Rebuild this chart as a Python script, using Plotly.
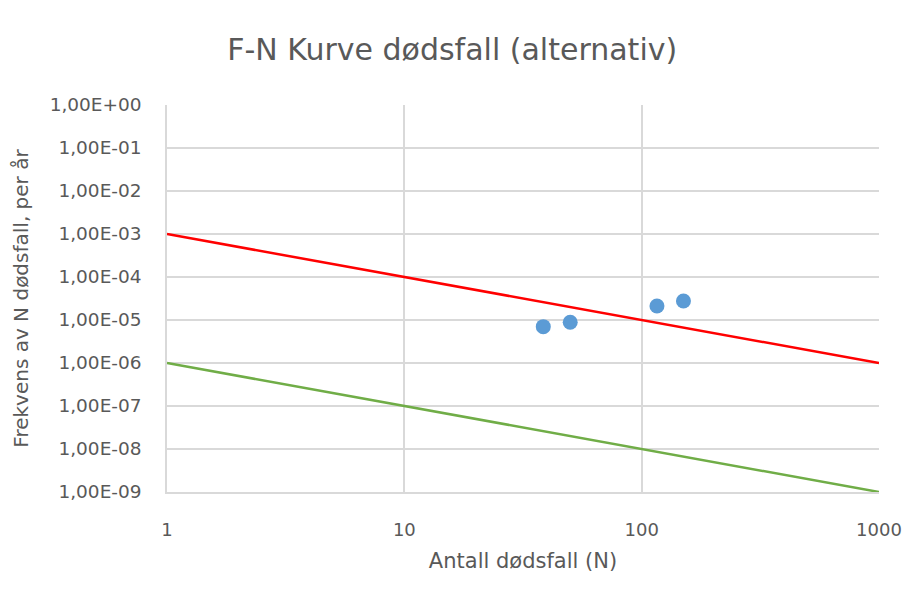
import plotly.graph_objects as go

# Data
line_x = [1, 1000]
upper_limit = [1e-3, 1e-6]
lower_limit = [1e-6, 1e-9]
point_n = [38.5, 50, 116, 150]
point_freq = [7.0e-6, 8.85e-6, 2.12e-5, 2.77e-5]

y_tickvals = [1e0, 1e-1, 1e-2, 1e-3, 1e-4, 1e-5, 1e-6, 1e-7, 1e-8, 1e-9]
y_ticktext = ["1,00E+00", "1,00E-01", "1,00E-02", "1,00E-03", "1,00E-04",
              "1,00E-05", "1,00E-06", "1,00E-07", "1,00E-08", "1,00E-09"]
x_tickvals = [1, 10, 100, 1000]
x_ticktext = ["1", "10", "100", "1000"]

FONT = "'DejaVu Sans', sans-serif"
GRAY = "#595959"

fig = go.Figure()
fig.add_trace(go.Scatter(x=line_x, y=upper_limit, mode="lines",
                         line=dict(color="#ff0000", width=2.5), showlegend=False))
fig.add_trace(go.Scatter(x=line_x, y=lower_limit, mode="lines",
                         line=dict(color="#70ad47", width=2.5), showlegend=False))
fig.add_trace(go.Scatter(x=point_n, y=point_freq, mode="markers",
                         marker=dict(color="#5b9bd5", size=15), showlegend=False))

fig.update_layout(
    width=921, height=606,
    margin=dict(l=167, r=42, t=105, b=114),
    paper_bgcolor="white", plot_bgcolor="white",
    font=dict(family=FONT, color=GRAY),
    title=dict(text="F-N Kurve dødsfall (alternativ)", x=0.491, xanchor="center",
               y=0.918, yanchor="middle", font=dict(size=30, color=GRAY, family=FONT)),
)
fig.update_xaxes(type="log", range=[0, 3], tickvals=x_tickvals, ticktext=x_ticktext,
                 showgrid=True, gridcolor="#d9d9d9", gridwidth=1.5,
                 showline=True, linecolor="#d9d9d9", linewidth=1.5,
                 zeroline=False, ticks="", ticklabelstandoff=21,
                 tickfont=dict(size=18, color=GRAY, family=FONT),
                 title=dict(text="Antall dødsfall (N)", font=dict(size=21, color=GRAY, family=FONT),
                            standoff=14))
fig.update_yaxes(type="log", range=[-9, 0], tickvals=y_tickvals, ticktext=y_ticktext,
                 showgrid=True, gridcolor="#d9d9d9", gridwidth=1.5,
                 showline=True, linecolor="#d9d9d9", linewidth=1.5,
                 zeroline=False, ticks="", ticklabelstandoff=20,
                 tickfont=dict(size=18.5, color=GRAY, family=FONT),
                 title=dict(text="Frekvens av N dødsfall, per år",
                            font=dict(size=20, color=GRAY, family=FONT), standoff=16))

fig.write_html("out.html")
